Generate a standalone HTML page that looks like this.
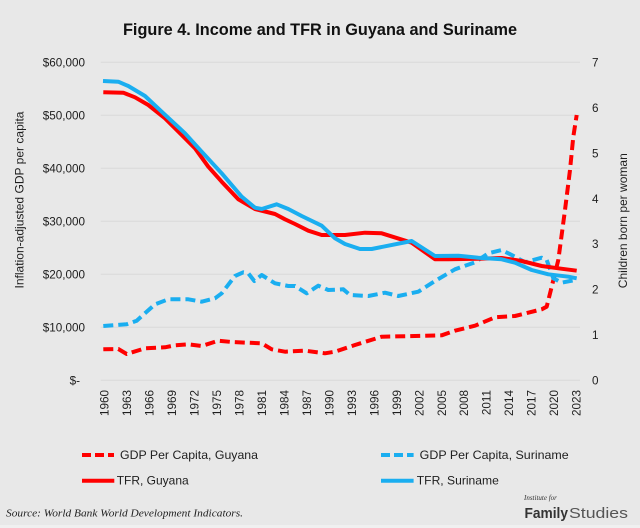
<!DOCTYPE html>
<html><head><meta charset="utf-8"><style>
html,body{margin:0;padding:0;background:#e8e8e8;}
svg{display:block;}
text{font-family:"Liberation Sans",Arial,sans-serif;fill:#1e1e1e;}
</style></head><body>
<svg width="640" height="528" viewBox="0 0 640 528" xmlns="http://www.w3.org/2000/svg">
<rect x="0" y="0" width="640" height="528" fill="#e8e8e8"/>
<rect x="0" y="525" width="640" height="3" fill="#f0f0f0"/>
<text x="320" y="35" text-anchor="middle" font-size="16.5" font-weight="bold" textLength="394" lengthAdjust="spacingAndGlyphs" style="fill:#111">Figure 4. Income and TFR in Guyana and Suriname</text>
<g stroke="#d9d9d9" stroke-width="1">
<line x1="100.7" x2="580" y1="62.3" y2="62.3"/>
<line x1="100.7" x2="580" y1="115.3" y2="115.3"/>
<line x1="100.7" x2="580" y1="168.3" y2="168.3"/>
<line x1="100.7" x2="580" y1="221.3" y2="221.3"/>
<line x1="100.7" x2="580" y1="274.3" y2="274.3"/>
<line x1="100.7" x2="580" y1="327.3" y2="327.3"/>
<line x1="100.7" x2="580" y1="380.3" y2="380.3"/>
</g>
<g font-size="11.7" text-anchor="end">
<text x="85" y="66.5">$60,000</text>
<text x="85" y="119.5">$50,000</text>
<text x="85" y="172.5">$40,000</text>
<text x="85" y="225.5">$30,000</text>
<text x="85" y="278.5">$20,000</text>
<text x="85" y="331.5">$10,000</text>
<text x="80" y="384.5">$-</text>
</g>
<g font-size="11.7" text-anchor="start">
<text x="592" y="66.5">7</text>
<text x="592" y="111.9">6</text>
<text x="592" y="157.3">5</text>
<text x="592" y="202.8">4</text>
<text x="592" y="248.2">3</text>
<text x="592" y="293.6">2</text>
<text x="592" y="339.1">1</text>
<text x="592" y="384.5">0</text>
</g>
<text transform="translate(23.5,200) rotate(-90)" text-anchor="middle" font-size="12" textLength="177" lengthAdjust="spacingAndGlyphs">Inflation-adjusted GDP per capita</text>
<text transform="translate(627,220.7) rotate(-90)" text-anchor="middle" font-size="12" textLength="135" lengthAdjust="spacingAndGlyphs">Children born per woman</text>
<g font-size="11.7" text-anchor="end">
<text transform="translate(108.7,390) rotate(-90)">1960</text>
<text transform="translate(131.2,390) rotate(-90)">1963</text>
<text transform="translate(153.6,390) rotate(-90)">1966</text>
<text transform="translate(176.1,390) rotate(-90)">1969</text>
<text transform="translate(198.6,390) rotate(-90)">1972</text>
<text transform="translate(221.0,390) rotate(-90)">1975</text>
<text transform="translate(243.5,390) rotate(-90)">1978</text>
<text transform="translate(266.0,390) rotate(-90)">1981</text>
<text transform="translate(288.5,390) rotate(-90)">1984</text>
<text transform="translate(310.9,390) rotate(-90)">1987</text>
<text transform="translate(333.4,390) rotate(-90)">1990</text>
<text transform="translate(355.9,390) rotate(-90)">1993</text>
<text transform="translate(378.3,390) rotate(-90)">1996</text>
<text transform="translate(400.8,390) rotate(-90)">1999</text>
<text transform="translate(423.3,390) rotate(-90)">2002</text>
<text transform="translate(445.8,390) rotate(-90)">2005</text>
<text transform="translate(468.2,390) rotate(-90)">2008</text>
<text transform="translate(490.7,390) rotate(-90)">2011</text>
<text transform="translate(513.2,390) rotate(-90)">2014</text>
<text transform="translate(535.6,390) rotate(-90)">2017</text>
<text transform="translate(558.1,390) rotate(-90)">2020</text>
<text transform="translate(580.6,390) rotate(-90)">2023</text>
</g>
<g fill="none" stroke-width="4" stroke-linejoin="round">
<polyline stroke="#ff0000" stroke-dasharray="10 5" points="103.3,349.3 118.3,349 126.7,354 145,348.3 165,347.3 175,345.3 188.3,344.3 201.7,346 218.3,340.7 231.7,342 261.7,343.3 271.7,349.3 285,351.7 305,350.7 325,353.3 335,351.7 355,345 381.7,336.7 415,336 441.7,335.3 455,330.7 475,325.7 495,317.3 515,316 541.7,309.3 546.7,306.7 551.7,286.7 558.3,260 565,210 570,170 573.3,136.7 576.7,115"/>
<polyline stroke="#1aaef0" stroke-dasharray="10 5" points="103.3,326 126.7,324.3 136.7,320.7 155,304.3 168.3,299.3 188.3,299.3 201.7,301.7 215,298.3 221.7,293.3 235,276 243.3,272.3 248.3,273.3 254.3,281 261.7,275 275,283.3 288.3,286 295,286 306.7,293.3 318.3,285.7 328.3,290 343.3,289.3 350,295 368.3,296 385,292.7 398.3,296 418.3,291.7 435,281 455,269.3 475,262.3 488.3,253.3 501.7,250 515,256.7 525,262.3 541.7,257.7 546.7,260 553.3,278.3 561.7,282.7 575,280"/>
<polyline stroke="#ff0000" points="103.3,92.3 123.3,92.7 135,97.3 148.3,105 165,118.3 181.7,135 195,148.3 208.3,166.7 221.7,181.7 238.3,199.3 255,209 275,214 285,219.3 295,224 308.3,230.7 321.7,235 345,235 365,232.7 381.7,233.3 411.7,242.7 435,259.3 448.3,259.3 478.3,258.7 501.7,258 521.7,261 541.7,266 558.3,268.3 576.7,270.7"/>
<polyline stroke="#1aaef0" points="103,81 118.3,81.7 128.3,86 145,96 161.7,111.7 185,133.3 201.7,151.7 221.7,173.3 241.7,196.7 255,207.7 261.7,209 276.7,204.3 288.3,209 301.7,216 321.7,225.7 335,238.3 345,244 360,249 371.7,249 411.7,241 435,256 458.3,255.7 478.3,257.7 501.7,259.3 515,262.7 531.7,270 548.3,274.3 568.3,276.7 576.7,278.3"/>
</g>
<g stroke-width="4" fill="none">
<line x1="82" x2="114" y1="455" y2="455" stroke="#ff0000" stroke-dasharray="9 4"/>
<line x1="381" x2="413.6" y1="455" y2="455" stroke="#1aaef0" stroke-dasharray="9 4"/>
<line x1="82" x2="114.3" y1="480.7" y2="480.7" stroke="#ff0000"/>
<line x1="381" x2="413.6" y1="480.7" y2="480.7" stroke="#1aaef0"/>
</g>
<g font-size="12">
<text x="120" y="459" textLength="138" lengthAdjust="spacingAndGlyphs">GDP Per Capita, Guyana</text>
<text x="419.7" y="459" textLength="149" lengthAdjust="spacingAndGlyphs">GDP Per Capita, Suriname</text>
<text x="116.7" y="484.5" textLength="72" lengthAdjust="spacingAndGlyphs">TFR, Guyana</text>
<text x="416.8" y="484.5" textLength="82" lengthAdjust="spacingAndGlyphs">TFR, Suriname</text>
</g>
<text x="6" y="516.5" font-size="11" font-style="italic" textLength="237" lengthAdjust="spacingAndGlyphs" style="font-family:'Liberation Serif',serif;fill:#222">Source: World Bank World Development Indicators.</text>
<text x="524" y="500" font-size="7" font-style="italic" style="font-family:'Liberation Serif',serif;fill:#333">Institute for</text>
<text x="524.5" y="518" font-size="14.5" font-weight="bold" textLength="43.5" lengthAdjust="spacingAndGlyphs" style="fill:#333">Family</text>
<text x="569" y="518" font-size="15" textLength="59" lengthAdjust="spacingAndGlyphs" style="fill:#555">Studies</text>
</svg>
</body></html>
